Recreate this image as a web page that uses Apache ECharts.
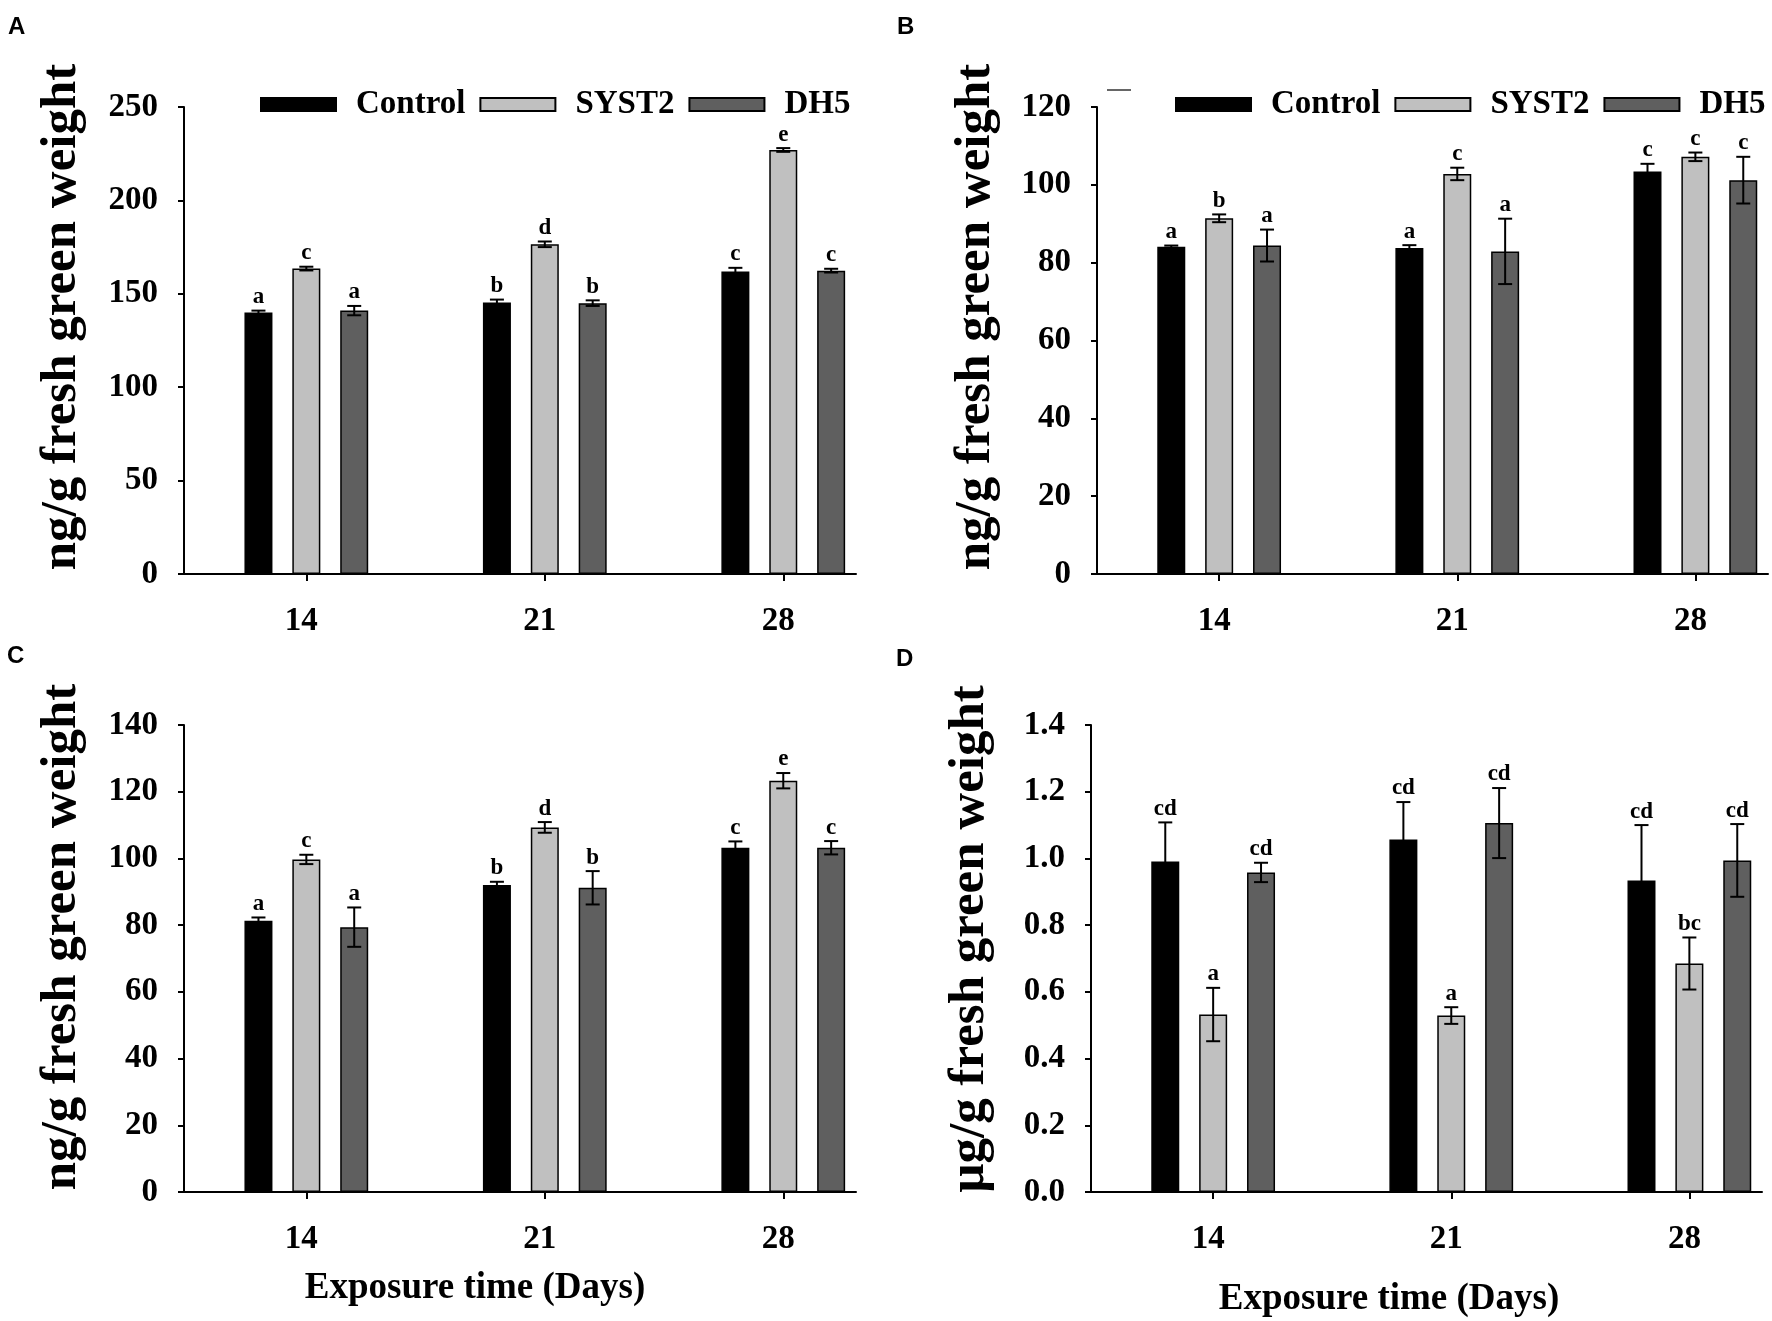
<!DOCTYPE html>
<html>
<head>
<meta charset="utf-8">
<script src="https://cdn.jsdelivr.net/npm/echarts@6/dist/echarts.min.js"></script>
<style>
html,body{margin:0;padding:0;background:#ffffff;}
#chart{width:1772px;height:1321px;}
</style>
</head>
<body>
<div id="chart"></div>
<script>
// ---------------- DATA ----------------
const days = ['14', '21', '28'];
const dayPos = [1, 2, 3];
const groups = ['Control', 'SYST2', 'DH5'];

// Panel A (ng/g fresh green weight)
const aControl = [140.0, 145.4, 161.9];
const aControlErr = [1.0, 1.5, 2.0];
const aControlSig = ['a', 'b', 'c'];
const aSyst2 = [163.5, 176.5, 227.0];
const aSyst2Err = [1.0, 1.5, 1.0];
const aSyst2Sig = ['c', 'd', 'e'];
const aDh5 = [141.0, 145.0, 162.4];
const aDh5Err = [2.5, 1.5, 1.0];
const aDh5Sig = ['a', 'b', 'c'];
const aTicks = [0, 50, 100, 150, 200, 250];

// Panel B (ng/g fresh green weight)
const bControl = [84.1, 83.8, 103.4];
const bControlErr = [0.3, 0.7, 2.0];
const bControlSig = ['a', 'a', 'c'];
const bSyst2 = [91.4, 102.8, 107.2];
const bSyst2Err = [1.0, 1.6, 1.1];
const bSyst2Sig = ['b', 'c', 'c'];
const bDh5 = [84.4, 82.9, 101.2];
const bDh5Err = [4.1, 8.4, 6.0];
const bDh5Sig = ['a', 'a', 'c'];
const bTicks = [0, 20, 40, 60, 80, 100, 120];

// Panel C (ng/g fresh green weight)
const cControl = [81.3, 92.0, 103.2];
const cControlErr = [1.0, 1.0, 1.9];
const cControlSig = ['a', 'b', 'c'];
const cSyst2 = [99.7, 109.3, 123.3];
const cSyst2Err = [1.4, 1.6, 2.3];
const cSyst2Sig = ['c', 'd', 'e'];
const cDh5 = [79.4, 91.2, 103.2];
const cDh5Err = [5.9, 5.0, 2.0];
const cDh5Sig = ['a', 'b', 'c'];
const cTicks = [0, 20, 40, 60, 80, 100, 120, 140];

// Panel D (µg/g fresh green weight)
const dControl = [0.991, 1.057, 0.934];
const dControlErr = [0.117, 0.112, 0.166];
const dControlSig = ['cd', 'cd', 'cd'];
const dSyst2 = [0.532, 0.529, 0.685];
const dSyst2Err = [0.080, 0.025, 0.078];
const dSyst2Sig = ['a', 'a', 'bc'];
const dDh5 = [0.958, 1.106, 0.994];
const dDh5Err = [0.029, 0.105, 0.109];
const dDh5Sig = ['cd', 'cd', 'cd'];
const dTicks = [0, 0.2, 0.4, 0.6, 0.8, 1.0, 1.2, 1.4];

const yTitleNg = 'ng/g fresh green weight';
const yTitleUg = 'µg/g fresh green weight';
const xTitle = 'Exposure time (Days)';
const panelLetters = ['A', 'B', 'C', 'D'];

// ---------------- STYLE ----------------
const SERIF = '"Liberation Serif","Times New Roman",Times,serif';
const SANS = '"Liberation Sans",Arial,Helvetica,sans-serif';
const colors = ['#000000', '#c0c0c0', '#5f5f5f'];
const BAR_W = 28;
const BAR_GAP = 0.71;
const STEP = BAR_W * (1 + BAR_GAP);
const X_MIN = 0.487, X_MAX = 3.305;

const panels = [
  { grid: { left: 184, top: 107, width: 672, height: 467 }, ticks: aTicks, dec: 0,
    vals: [aControl, aSyst2, aDh5], errs: [aControlErr, aSyst2Err, aDh5Err], sigs: [aControlSig, aSyst2Sig, aDh5Sig] },
  { grid: { left: 1097, top: 107, width: 671, height: 467 }, ticks: bTicks, dec: 0,
    vals: [bControl, bSyst2, bDh5], errs: [bControlErr, bSyst2Err, bDh5Err], sigs: [bControlSig, bSyst2Sig, bDh5Sig] },
  { grid: { left: 184, top: 725, width: 672, height: 467 }, ticks: cTicks, dec: 0,
    vals: [cControl, cSyst2, cDh5], errs: [cControlErr, cSyst2Err, cDh5Err], sigs: [cControlSig, cSyst2Sig, cDh5Sig] },
  { grid: { left: 1091, top: 725, width: 671, height: 467 }, ticks: dTicks, dec: 1,
    vals: [dControl, dSyst2, dDh5], errs: [dControlErr, dSyst2Err, dDh5Err], sigs: [dControlSig, dSyst2Sig, dDh5Sig] }
];

const grids = [], xAxes = [], yAxes = [], series = [];

panels.forEach((p, pi) => {
  grids.push(Object.assign({ containLabel: false }, p.grid));
  xAxes.push({
    type: 'value', gridIndex: pi, min: X_MIN, max: X_MAX,
    splitLine: { show: false },
    axisLine: { show: true, onZero: false, lineStyle: { color: '#000', width: 2 } },
    axisTick: { show: true, customValues: dayPos, length: 7, lineStyle: { color: '#000', width: 2 } },
    axisLabel: {
      customValues: dayPos, margin: 31, padding: [0, 10, 0, 0],
      formatter: v => days[Math.round(v) - 1] || '',
      fontFamily: SERIF, fontWeight: 'bold', fontSize: 33, color: '#000'
    }
  });
  const t = p.ticks;
  yAxes.push({
    type: 'value', gridIndex: pi, min: t[0], max: t[t.length - 1], interval: t[1] - t[0],
    splitLine: { show: false },
    axisLine: { show: true, onZero: false, lineStyle: { color: '#000', width: 2 } },
    axisTick: { show: true, length: 6, lineStyle: { color: '#000', width: 2 } },
    axisLabel: {
      margin: 26, formatter: v => v.toFixed(p.dec),
      fontFamily: SERIF, fontWeight: 'bold', fontSize: 33, color: '#000'
    }
  });
  groups.forEach((g, si) => {
    series.push({
      name: g, type: 'bar', xAxisIndex: pi, yAxisIndex: pi,
      barWidth: BAR_W, barGap: (BAR_GAP * 100) + '%',
      itemStyle: { color: colors[si], borderColor: '#000', borderWidth: 1.5 },
      data: dayPos.map((x, i) => [x, p.vals[si][i]]),
      silent: true, animation: false
    });
  });
  const errData = [], sigList = [];
  groups.forEach((g, si) => {
    dayPos.forEach((x, i) => {
      errData.push([x, p.vals[si][i], p.errs[si][i], si]);
      sigList.push(p.sigs[si][i]);
    });
  });
  series.push({
    type: 'custom', xAxisIndex: pi, yAxisIndex: pi, z: 10, silent: true, animation: false,
    encode: { x: 0, y: 1 },
    data: errData,
    renderItem: (params, api) => {
      const x = api.value(0), v = api.value(1), e = api.value(2), s = api.value(3);
      const top = api.coord([x, v + e]);
      const bot = api.coord([x, v - e]);
      const cx = top[0] + (s - 1) * STEP;
      const ls = { stroke: '#000', lineWidth: 2 };
      return {
        type: 'group',
        children: [
          { type: 'line', shape: { x1: cx, y1: top[1], x2: cx, y2: bot[1] }, style: ls },
          { type: 'line', shape: { x1: cx - 7, y1: top[1], x2: cx + 7, y2: top[1] }, style: ls },
          { type: 'line', shape: { x1: cx - 7, y1: bot[1], x2: cx + 7, y2: bot[1] }, style: ls },
          { type: 'text', x: cx, y: top[1] - 2,
            style: { text: sigList[params.dataIndex], fill: '#000',
                     font: 'bold 23px ' + SERIF, align: 'center', verticalAlign: 'bottom',
                     textAlign: 'center', textVerticalAlign: 'bottom' } }
        ]
      };
    }
  });
});

const legendCommon = {
  data: groups, orient: 'horizontal', padding: 0, itemGap: 14,
  itemWidth: 75, itemHeight: 13, icon: 'rect', selectedMode: false,
  textStyle: { fontFamily: SERIF, fontWeight: 'bold', fontSize: 33, color: '#000', padding: [0, 0, 0, 15] }
};

function txt(text, x, y, font, rot, align, valign) {
  return {
    type: 'text', x: x, y: y, rotation: rot || 0, silent: true,
    style: { text: text, font: font, fill: '#000',
             align: align || 'center', verticalAlign: valign || 'middle',
             textAlign: align || 'center', textVerticalAlign: valign || 'middle' }
  };
}

const graphics = [
  txt(panelLetters[0], 8, 15, 'bold 24px ' + SANS, 0, 'left', 'top'),
  txt(panelLetters[1], 897, 15, 'bold 24px ' + SANS, 0, 'left', 'top'),
  txt(panelLetters[2], 7, 644, 'bold 24px ' + SANS, 0, 'left', 'top'),
  txt(panelLetters[3], 896, 647, 'bold 24px ' + SANS, 0, 'left', 'top'),
  txt(yTitleNg, 62, 317, 'bold 51px ' + SERIF, Math.PI / 2),
  txt(yTitleNg, 976, 317, 'bold 51px ' + SERIF, Math.PI / 2),
  txt(yTitleNg, 62, 937, 'bold 51px ' + SERIF, Math.PI / 2),
  txt(yTitleUg, 970, 939, 'bold 51px ' + SERIF, Math.PI / 2),
  txt(xTitle, 475, 1288, 'bold 37px ' + SERIF),
  txt(xTitle, 1389, 1299, 'bold 37px ' + SERIF),
  { type: 'line', silent: true, shape: { x1: 1107, y1: 90, x2: 1131, y2: 90 }, style: { stroke: '#333', lineWidth: 1.5 } }
];

const chart = echarts.init(document.getElementById('chart'), null, { renderer: 'canvas', width: 1772, height: 1321 });
chart.setOption({
  backgroundColor: '#ffffff',
  animation: false,
  color: colors,
  grid: grids,
  xAxis: xAxes,
  yAxis: yAxes,
  legend: [
    Object.assign({ left: 260, top: 88 }, legendCommon),
    Object.assign({ left: 1175, top: 88 }, legendCommon)
  ],
  graphic: graphics,
  series: series
});
</script>
</body>
</html>
